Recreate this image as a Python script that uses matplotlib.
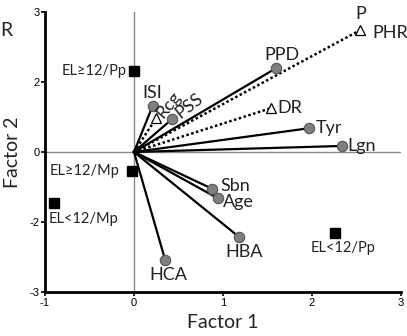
import matplotlib
matplotlib.use('Agg')
import matplotlib.pyplot as plt

plt.rcParams['axes.unicode_minus'] = False

# Variables con vector continuo (círculos) y sus cargas en los factores 1 y 2
var_solid = ['PPD', 'Tyr', 'Lgn', 'ISI', 'PSS', 'Sbn', 'Age', 'HBA', 'HCA']
x_solid = [1.60, 1.97, 2.34, 0.21, 0.43, 0.88, 0.94, 1.18, 0.35]
y_solid = [1.80, 0.51, 0.13, 0.99, 0.71, -0.79, -0.99, -1.82, -2.31]

# Variables con vector punteado (triángulos)
var_dot = ['PHR', 'DR', 'Rcg']
x_dot = [2.54, 1.54, 0.25]
y_dot = [2.61, 0.94, 0.73]

# Grupos (cuadrados)
grupos = ['EL≥12/Pp', 'EL≥12/Mp', 'EL<12/Mp', 'EL<12/Pp']
x_grp = [0.0, -0.02, -0.90, 2.26]
y_grp = [1.74, -0.41, -1.09, -1.74]

# Ejes
xticks = [-1, 0, 1, 2, 3]
yticks = [-3, -1.5, 0, 1.5, 3]
ytick_labels = ['-3', '-2', '0', '2', '3']

fuente = ['Lato', 'DejaVu Sans']

fig = plt.figure(figsize=(4.07, 3.36), dpi=100)
ax = fig.add_axes([45 / 407, 1 - 292 / 336, 356 / 407, 280 / 336])

ax.axhline(0, color='#8a8a8a', lw=1, zorder=1)
ax.axvline(0, color='#8a8a8a', lw=1, zorder=1)

for x, y in zip(x_solid, y_solid):
    ax.plot([0, x], [0, y], color='black', lw=1.6, zorder=2)
for x, y in zip(x_dot, y_dot):
    ax.plot([0, x], [0, y], color='black', lw=1.8, ls=(0, (1, 1)), zorder=2)

ax.plot(x_solid, y_solid, 'o', ms=7.5, mfc='#7f7f7f', mec='#555555', mew=0.8, zorder=3)
ax.plot(x_dot, y_dot, '^', ms=7.5, mfc='white', mec='black', mew=0.9, zorder=3)
ax.plot(x_grp, y_grp, 's', ms=6.5, color='black', zorder=3)

# Posición de las etiquetas (desplazamiento en píxeles)
off_solid = {'PPD': (6, 13, 'center', 0), 'Tyr': (6, 0, 'left', 0), 'Lgn': (5, 0, 'left', 0),
             'ISI': (0, 13, 'center', 0), 'PSS': (17, 13, 'center', 38), 'Sbn': (8, 3, 'left', 0),
             'Age': (5, -4, 'left', 0), 'HBA': (5, -15, 'center', 0), 'HCA': (3, -15, 'center', 0)}
off_dot = {'PHR': (12, -3, 'left', 0), 'DR': (6, 0, 'left', 0), 'Rcg': (12, 13, 'center', 50)}
off_grp = {'EL≥12/Pp': (-7, 0, 'right'), 'EL≥12/Mp': (-13, 0, 'right'),
           'EL<12/Mp': (-5, -16, 'left'), 'EL<12/Pp': (8, -15, 'center')}

for nombres, xs, ys, offs in [(var_solid, x_solid, y_solid, off_solid), (var_dot, x_dot, y_dot, off_dot)]:
    for n, x, y in zip(nombres, xs, ys):
        dx, dy, ha, rot = offs[n]
        ax.annotate(n, (x, y), xytext=(dx, dy), textcoords='offset pixels', ha=ha, va='center',
                    rotation=rot, rotation_mode='anchor', fontsize=13, family=fuente, color='#222222')
ax.annotate('P', (x_dot[0], y_dot[0]), xytext=(1, 16), textcoords='offset pixels', ha='center',
            va='center', fontsize=13, family=fuente, color='#222222')

for n, x, y in zip(grupos, x_grp, y_grp):
    dx, dy, ha = off_grp[n]
    ax.annotate(n, (x, y), xytext=(dx, dy), textcoords='offset pixels', ha=ha, va='center',
                fontsize=10.5, family=fuente, color='#222222')

ax.set_xlim(-1, 3)
ax.set_ylim(-3, 3)
ax.set_xticks(xticks)
ax.set_yticks(yticks)
ax.set_yticklabels(ytick_labels)
ax.tick_params(direction='out', length=3, width=1.2, labelsize=8, pad=1)
for lab in ax.get_xticklabels() + ax.get_yticklabels():
    lab.set_family('Liberation Sans')

ax.spines['top'].set_visible(False)
ax.spines['right'].set_visible(False)
ax.spines['left'].set_linewidth(2)
ax.spines['bottom'].set_linewidth(2)

ax.set_xlabel('Factor 1', fontsize=14, family=fuente, color='#222222', labelpad=5)
ax.set_ylabel('Factor 2', fontsize=14, family=fuente, color='#222222', labelpad=6)

fig.text(0.0, 1 - 30 / 336, 'R', fontsize=14, family=fuente, color='#222222', va='center')

fig.savefig('out.png', dpi=100)
